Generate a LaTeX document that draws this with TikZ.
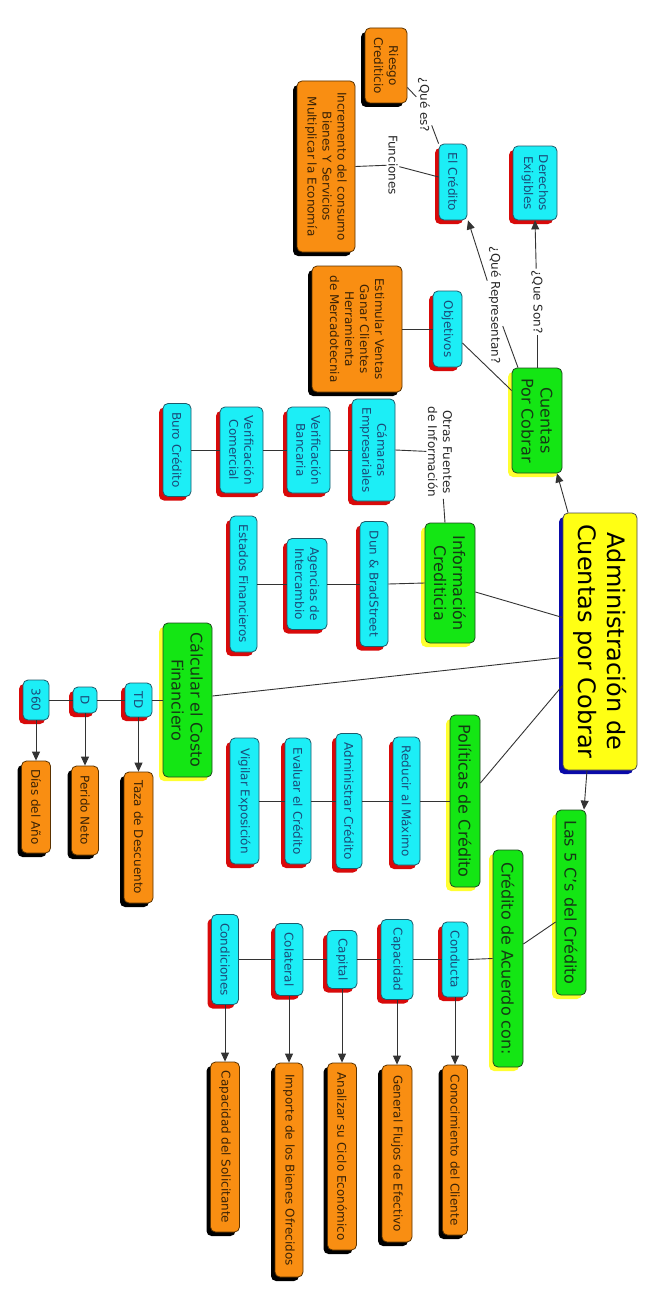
\documentclass[tikz,border=0pt]{standalone}
\usepackage{fontspec}
\setmainfont{DejaVu Sans}
\usetikzlibrary{arrows.meta}
\definecolor{cyanf}{HTML}{1CEEF6}
\definecolor{cyand}{HTML}{1F5A6A}
\definecolor{cyant}{HTML}{1A4A78}
\definecolor{orangef}{HTML}{F98E12}
\definecolor{oranged}{HTML}{5A3200}
\definecolor{oranget}{HTML}{3A2205}
\definecolor{greenf}{HTML}{14E614}
\definecolor{greend}{HTML}{1E4A1E}
\definecolor{greent}{HTML}{143A14}
\definecolor{yellowf}{HTML}{FFFF14}
\definecolor{yellowsh}{HTML}{FFFF30}
\definecolor{shadred}{HTML}{D80A0A}
\definecolor{shadblue}{HTML}{0A0AA8}
\definecolor{linec}{HTML}{333333}
\begin{document}
\begin{tikzpicture}[x=1pt,y=-1pt,
  box/.style={rotate=-90, rounded corners=5pt, inner sep=2pt, align=center, line width=0.8pt},
  smallfont/.style={font=\fontsize{12}{15}\selectfont},
  cbox/.style={box, smallfont, fill=cyanf, draw=cyand, text=cyant,
    preaction={fill=shadred, transform canvas={xshift=-4pt,yshift=-4pt}}},
  obox/.style={box, smallfont, fill=orangef, draw=oranged, text=oranget,
    preaction={fill=black, transform canvas={xshift=-4pt,yshift=-4pt}}},
  gbox/.style={box, font=\fontsize{16}{19}\selectfont, fill=greenf, draw=greend, text=greent,
    preaction={fill=yellowsh, transform canvas={xshift=-4pt,yshift=-4pt}}},
  mbox/.style={box, font=\fontsize{24}{29}\selectfont, fill=yellowf, draw=black!70, text=black,
    preaction={fill=shadblue, transform canvas={xshift=-4pt,yshift=-4pt}}},
  lbl/.style={rotate=-90, smallfont, fill=white, inner sep=1.5pt, align=center, text=black!85},
  ln/.style={draw=linec, line width=0.9pt},
  arr/.style={ln, -{Triangle[length=9pt,width=8pt]}}
]
\useasboundingbox[fill=white] (0,0) rectangle (668,1295);

% ---------- main
\node[mbox, minimum width=257pt, minimum height=74pt] (main) at (600,641.5) {Administración de\\Cuentas por Cobrar};

% ---------- Cuentas por cobrar branch
\node[gbox, minimum width=105pt, minimum height=50pt] (cuentas) at (537,420.5) {Cuentas\\Por Cobrar};
\node[cbox, minimum width=74pt, minimum height=44pt] (derechos) at (535,183) {Derechos\\Exigibles};
\node[cbox, minimum width=76pt, minimum height=28pt] (elcred) at (453,182) {El Crédito};
\node[obox, minimum width=75pt, minimum height=42pt] (riesgo) at (386,65.5) {Riesgo\\Crediticio};
\node[obox, minimum width=171pt, minimum height=58pt] (increm) at (326,166.5) {Incremento del consumo\\Bienes Y Servicios\\Multiplicar la Economía};
\node[cbox, minimum width=76pt, minimum height=29pt] (objet) at (447.5,329) {Objetivos};
\node[obox, minimum width=126pt, minimum height=90pt] (estim) at (357,329) {Estimular Ventas\\Ganar Clientes\\Herramienta\\de Mercadotecnia};

\node[lbl] (lson) at (537,302) {¿Que Son?};
\node[lbl] (lrep) at (495,305) {¿Qué Representan?};
\node[lbl] (lque) at (424,105) {¿Qué es?};
\node[lbl] (lfun) at (393,165) {Funciones};

% ---------- Informacion crediticia
\node[gbox, minimum width=120pt, minimum height=50pt] (infocred) at (450,583) {Información\\Crediticia};
\node[lbl] (lotras) at (440,452) {Otras Fuentes\\de Información};
\node[cbox, minimum width=102pt, minimum height=43pt] (camaras) at (373.5,450) {Cámaras\\Empresariales};
\node[cbox, minimum width=86pt, minimum height=43pt] (verbanc) at (308.5,450) {Verificación\\Bancaria};
\node[cbox, minimum width=86pt, minimum height=43pt] (vercom) at (241.5,450) {Verificación\\Comercial};
\node[cbox, minimum width=93pt, minimum height=28pt] (buro) at (177,450) {Buro Crédito};
\node[cbox, minimum width=125pt, minimum height=28pt] (dun) at (374,584) {Dun \& BradStreet};
\node[cbox, minimum width=91pt, minimum height=40pt] (agencias) at (307,584) {Agencias de\\Intercambio};
\node[cbox, minimum width=136pt, minimum height=27pt] (estados) at (243.5,584) {Estados Financieros};

% ---------- Calcular costo
\node[gbox, minimum width=154pt, minimum height=49pt] (calc) at (187.5,700) {Cálcular el Costo\\Financiero};
\node[cbox, minimum width=34pt, minimum height=27pt] (td) at (138.5,700) {TD};
\node[cbox, minimum width=26pt, minimum height=24pt] (dd) at (85,700) {D};
\node[cbox, minimum width=40pt, minimum height=26pt] (n360) at (36,700) {360};
\node[obox, minimum width=131pt, minimum height=29pt] (taza) at (138.5,837.5) {Taza de Descuento};
\node[obox, minimum width=89pt, minimum height=27pt] (perido) at (85,810.5) {Perido Neto};
\node[obox, minimum width=92pt, minimum height=29pt] (dias) at (36,807) {Días del Año};

% ---------- Politicas
\node[gbox, minimum width=172pt, minimum height=30pt] (polit) at (465,801) {Políticas de Crédito};
\node[cbox, minimum width=128pt, minimum height=27pt] (reducir) at (406.5,801) {Reducir al Máximo};
\node[cbox, minimum width=135pt, minimum height=26pt] (admin) at (349,801) {Administrar Crédito};
\node[cbox, minimum width=126pt, minimum height=26pt] (evaluar) at (298,801) {Evaluar el Crédito};
\node[cbox, minimum width=126pt, minimum height=29pt] (vigilar) at (244.5,801) {Vigilar Exposición};

% ---------- 5 C's
\node[gbox, minimum width=185pt, minimum height=30pt] (las5c) at (571,902.5) {Las 5 C's del Crédito};
\node[gbox, minimum width=217pt, minimum height=30pt] (credac) at (508,958.5) {Crédito de Acuerdo con:};
\node[cbox, minimum width=75pt, minimum height=26pt] (conducta) at (455,959.5) {Conducta};
\node[cbox, minimum width=80pt, minimum height=32pt] (capacidad) at (397,959.5) {Capacidad};
\node[cbox, minimum width=58pt, minimum height=30pt] (capital) at (342,959.5) {Capital};
\node[cbox, minimum width=72pt, minimum height=28pt] (colateral) at (289,959.5) {Colateral};
\node[cbox, minimum width=90pt, minimum height=27pt] (condic) at (225,959.5) {Condiciones};
\node[obox, minimum width=170pt, minimum height=25pt] (conoc) at (455,1150) {Conocimiento del Cliente};
\node[obox, minimum width=177pt, minimum height=30pt] (general) at (397,1153.5) {General Flujos de Efectivo};
\node[obox, minimum width=187pt, minimum height=29pt] (analiz) at (342,1156.5) {Analizar su Ciclo Económico};
\node[obox, minimum width=214pt, minimum height=28pt] (importe) at (289,1170) {Importe de los Bienes Ofrecidos};
\node[obox, minimum width=170pt, minimum height=29pt] (capsol) at (225,1147) {Capacidad del Solicitante};

% ---------- connectors
\draw[arr] ([xshift=-32pt]main.west) -- ([xshift=20pt]cuentas.east);
\draw[ln] ([yshift=24pt]main.south) -- ([yshift=-9pt]infocred.north);
\draw[ln] ([yshift=-16pt]main.south) -- ([yshift=4pt]calc.north);
\draw[ln] ([yshift=-44pt]main.south) -- ([yshift=18pt]polit.north);
\draw[arr] ([xshift=-13pt]main.east) -- ([xshift=13pt]las5c.west);

\draw[ln] (cuentas.west) -- (lson);
\draw[arr] (lson) -- (derechos.east);
\draw[ln] ([xshift=-19pt]cuentas.west) -- (lrep);
\draw[arr] (lrep) -- ([xshift=15pt]elcred.east);
\draw[ln] ([yshift=30pt]cuentas.south) -- ([yshift=-14pt]objet.north);
\draw[ln] (objet.south) -- (estim.north);
\draw[ln] (elcred.south west) -- (lque);
\draw[ln] (lque) -- ([yshift=-22pt]riesgo.north);
\draw[ln] ([yshift=5pt]elcred.south) -- (lfun);
\draw[ln] (lfun) -- (increm.north);

\draw[ln] ([xshift=-5pt]infocred.west) -- (lotras);
\draw[ln] (lotras) -- (camaras.north);
\draw[ln] (camaras.south) -- (verbanc.north);
\draw[ln] (verbanc.south) -- (vercom.north);
\draw[ln] (vercom.south) -- (buro.north);
\draw[ln] (infocred.south) -- (dun.north);
\draw[ln] (dun.south) -- (agencias.north);
\draw[ln] (agencias.south) -- (estados.north);

\draw[ln] (calc.south) -- (td.north);
\draw[ln] (td.south) -- (dd.north);
\draw[ln] (dd.south) -- (n360.north);
\draw[arr] (td.east) -- (taza.west);
\draw[arr] (dd.east) -- (perido.west);
\draw[arr] (n360.east) -- (dias.west);

\draw[ln] (polit.south) -- (reducir.north);
\draw[ln] (reducir.south) -- (admin.north);
\draw[ln] (admin.south) -- (evaluar.north);
\draw[ln] (evaluar.south) -- (vigilar.north);

\draw[ln] ([yshift=-19.5pt]las5c.south) -- ([yshift=14.5pt]credac.north);
\draw[ln] (credac.south) -- (conducta.north);
\draw[ln] (conducta.south) -- (capacidad.north);
\draw[ln] (capacidad.south) -- (capital.north);
\draw[ln] (capital.south) -- (colateral.north);
\draw[ln] (colateral.south) -- (condic.north);
\draw[arr] (conducta.east) -- (conoc.west);
\draw[arr] (capacidad.east) -- (general.west);
\draw[arr] (capital.east) -- (analiz.west);
\draw[arr] (colateral.east) -- (importe.west);
\draw[arr] (condic.east) -- (capsol.west);
\end{tikzpicture}
\end{document}
